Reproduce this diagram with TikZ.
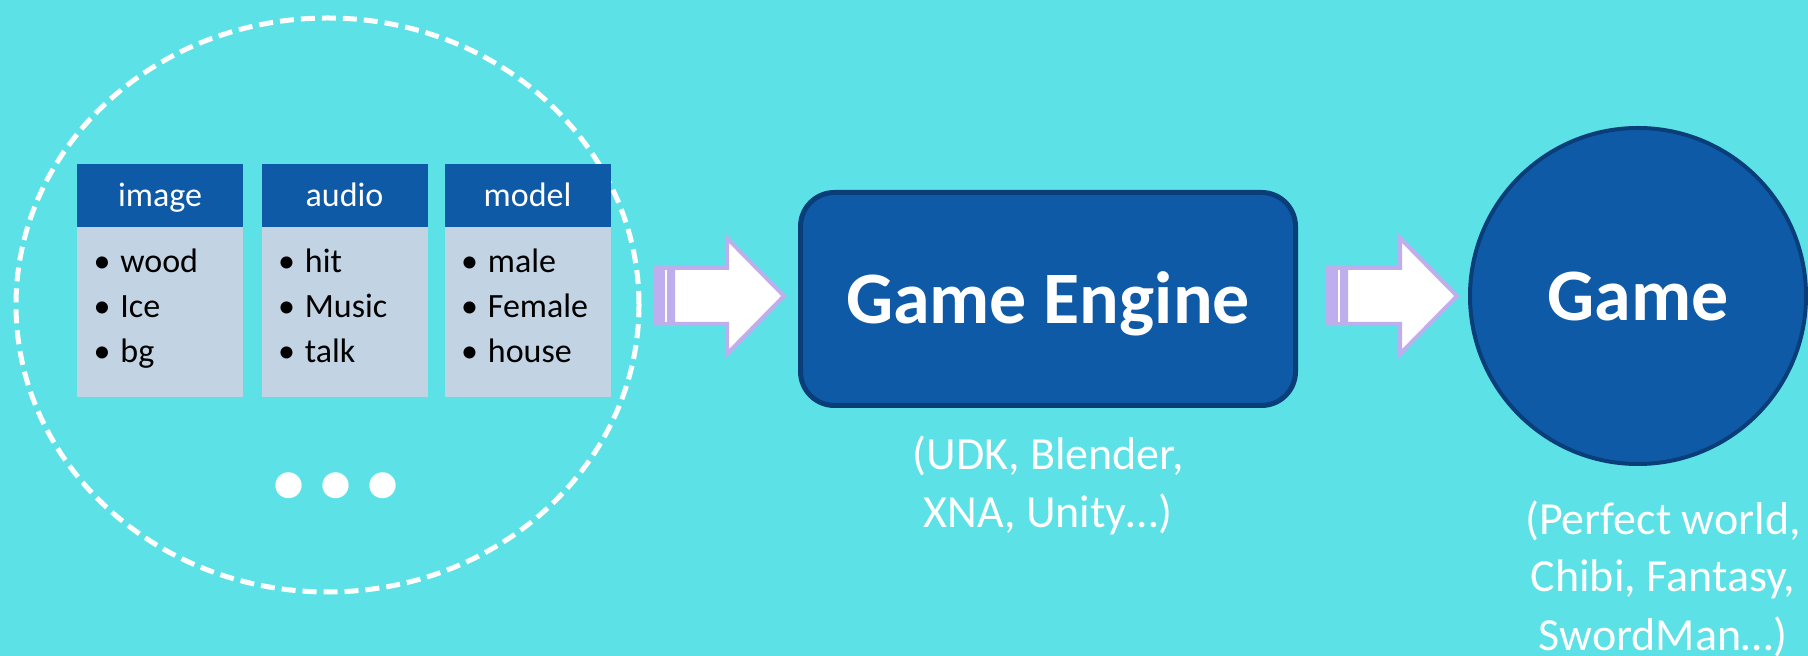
\documentclass[tikz,border=0pt]{standalone}
\usepackage{fontspec}
\setmainfont{Carlito}
\usetikzlibrary{shapes.geometric}
\definecolor{bgc}{RGB}{92,225,230}
\definecolor{hdrblue}{RGB}{14,90,167}
\definecolor{bodyc}{RGB}{194,211,227}
\definecolor{lav}{RGB}{190,174,238}
\definecolor{darkb}{RGB}{10,62,120}
\tikzset{
  hdr/.style={rectangle, fill=hdrblue, text=white, minimum width=83pt, minimum height=31.5pt,
    inner sep=0pt, font=\fontsize{17}{20}\selectfont, text height=11.5pt, text depth=0pt},
  bodybox/.style={rectangle, fill=bodyc, minimum width=83pt, minimum height=85pt, inner sep=0pt},
  itm/.style={inner sep=0pt, text=black, font=\fontsize{17}{20}\selectfont},
  bigbox/.style={rectangle, rounded corners=17pt, fill=hdrblue, draw=darkb, line width=2.5pt,
    minimum width=247.5pt, minimum height=106.5pt, inner sep=0pt, text=white,
    font=\fontsize{37}{44}\selectfont\bfseries, text height=25pt, text depth=0pt},
  bigcirc/.style={circle, fill=hdrblue, draw=darkb, line width=2pt, minimum size=168pt,
    inner sep=0pt, text=white, font=\fontsize{37}{44}\selectfont\bfseries, text height=25pt, text depth=0pt},
  capt/.style={inner sep=0pt, text=white, align=center, font=\fontsize{23}{29}\selectfont},
  pool/.style={ellipse, draw=white, line width=2.5pt, dash pattern=on 7pt off 3.5pt,
    minimum width=311.5pt, minimum height=287pt, inner sep=0pt},
  arrowbody/.style={draw=lav, fill=white, line width=2pt, line join=miter}
}
\begin{document}
\begin{tikzpicture}[x=0.5pt,y=-0.5pt]
\fill[bgc] (0,0) rectangle (1808,656);
\useasboundingbox (0,0) rectangle (1808,656);

% dashed pool
\node[pool] (pool) at (327.5,305) {};

% three asset boxes
\foreach \cx/\ttl/\a/\b/\c/\n in {160/image/wood/Ice/bg/1, 344.5/audio/hit/Music/talk/2, 527.5/model/male/Female/house/3}{
  \node[bodybox] (b\n) at (\cx,312) {};
  \node[hdr] (h\n) at (\cx,195.5) {\ttl};
  \foreach \t [count=\i] in {\a,\b,\c}{
    \node[itm, anchor=base] (bu\n\i) at (\cx-58,228+45*\i) {•};
    \node[itm, anchor=base west] (t\n\i) at (\cx-40,228+45*\i) {\t};
  }
}

% ellipsis
\node[inner sep=0pt, text=white, anchor=base, font=\fontsize{88}{88}\selectfont\bfseries] (dots) at (336,498) {...};

% striped block arrows
\foreach \ax/\n in {653/1,1326/2}{
  \draw[arrowbody] (\ax+20,268) -- (\ax+74,268) -- (\ax+74,238) -- (\ax+131,296)
     -- (\ax+74,354) -- (\ax+74,324) -- (\ax+20,324) -- cycle;
  \fill[lav] (\ax,266) rectangle (\ax+22,326);
  \draw[white, line width=1pt] (\ax+13,270) -- (\ax+13,322);
}

% engine and game
\node[bigbox] (engine) at (1048,299) {Game Engine};
\node[bigcirc] (game) at (1638,296) {Game};

% captions (anchor base = baseline of last line)
\node[capt, anchor=base] (engcap) at (1048,528) {(UDK, Blender,\\XNA, Unity…)};
\node[capt, anchor=base] (gamecap) at (1663,650) {(Perfect world,\\Chibi, Fantasy,\\SwordMan…)};
\end{tikzpicture}
\end{document}
